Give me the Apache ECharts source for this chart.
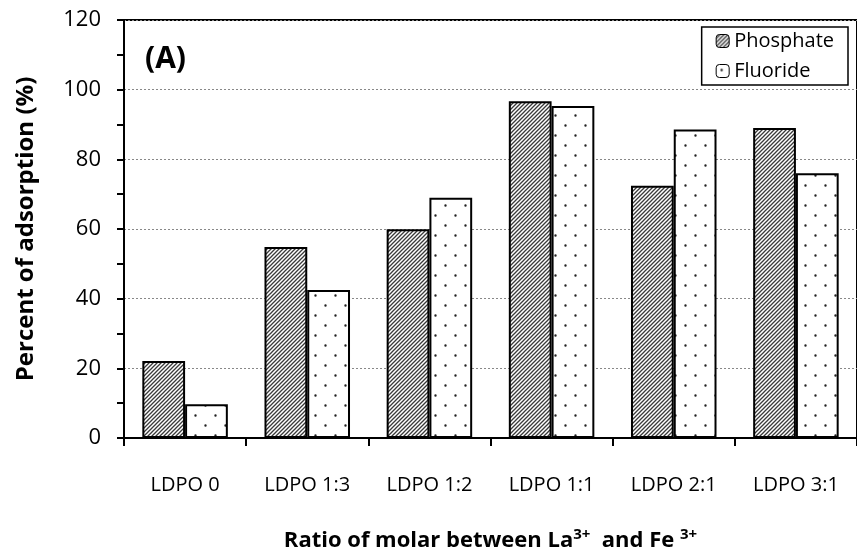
<!DOCTYPE html>
<html>
<head>
<meta charset="utf-8">
<script src="https://cdn.jsdelivr.net/npm/echarts@6/dist/echarts.min.js"></script>
<style>
  html, body { margin: 0; padding: 0; background: #fff; }
  #chart { width: 857px; height: 559px; }
</style>
</head>
<body>
<div id="chart"></div>
<script>
// data
var categories = ["LDPO 0", "LDPO 1:3", "LDPO 1:2", "LDPO 1:1", "LDPO 2:1", "LDPO 3:1"];
var phosphate = [22.1, 54.8, 59.9, 96.7, 72.4, 89.0];
var fluoride = [9.7, 42.5, 69.0, 95.3, 88.6, 76.0];
var yTicks = [0, 20, 40, 60, 80, 100, 120];

var fontFam = "'Open Sans', sans-serif";

// hatch pattern for phosphate
function makeHatch() {
	var c = document.createElement("canvas");
	c.width = 4;
	c.height = 4;
	var ctx = c.getContext("2d");
	ctx.fillStyle = "#fff";
	ctx.fillRect(0, 0, 4, 4);
	ctx.strokeStyle = "#3a3a3a";
	ctx.lineWidth = 1.3;
	ctx.beginPath();
	ctx.moveTo(-1, 5); ctx.lineTo(5, -1);
	ctx.moveTo(-1, 1); ctx.lineTo(1, -1);
	ctx.moveTo(3, 5); ctx.lineTo(5, 3);
	ctx.stroke();
	return c;
}

// sparse dots for fluoride
function makeDots() {
	var c = document.createElement("canvas");
	c.width = 20;
	c.height = 20;
	var ctx = c.getContext("2d");
	ctx.fillStyle = "#fff";
	ctx.fillRect(0, 0, 20, 20);
	ctx.fillStyle = "#222";
	ctx.beginPath();
	ctx.arc(5.5, 5.5, 1.2, 0, Math.PI * 2);
	ctx.arc(15.5, 15.5, 1.2, 0, Math.PI * 2);
	ctx.fill();
	return c;
}

var chart = echarts.init(document.getElementById("chart"), null, { renderer: "canvas" });

var option = {
	animation: false,
	backgroundColor: "#fff",
	title: {
		text: "(A)",
		left: 140,
		top: 39,
		textStyle: { fontFamily: fontFam, fontSize: 30, fontWeight: "bold", color: "#000" }
	},
	legend: {
		orient: "vertical",
		right: 9,
		top: 27,
		padding: [3, 14, 3, 14],
		itemGap: 8,
		itemWidth: 13,
		itemHeight: 13,
		borderColor: "#000",
		borderWidth: 1.5,
		backgroundColor: "#fff",
		itemStyle: { borderColor: "#000", borderWidth: 1 },
		textStyle: { fontFamily: fontFam, fontSize: 20, lineHeight: 22, color: "#000" },
		data: ["Phosphate", "Fluoride"]
	},
	grid: {
		left: 124,
		right: -3,
		top: 20,
		bottom: 121,
		show: true,
		borderColor: "#000",
		borderWidth: 2
	},
	xAxis: {
		type: "category",
		data: categories,
		name: "{b|Ratio of molar between La}{s|3+}{b|  and Fe }{s|3+}",
		nameLocation: "middle",
		nameGap: 89,
		nameTextStyle: {
			rich: {
				b: { fontFamily: fontFam, fontSize: 22, fontWeight: "bold", color: "#000", lineHeight: 28 },
				s: { fontFamily: fontFam, fontSize: 15, fontWeight: "bold", color: "#000", verticalAlign: "top", lineHeight: 28, padding: [0, 0, 12, 0] }
			}
		},
		axisLine: { lineStyle: { color: "#000", width: 2 } },
		axisTick: { show: true, length: 8, lineStyle: { color: "#000", width: 2 } },
		axisLabel: { margin: 37, fontFamily: fontFam, fontSize: 20, color: "#000" }
	},
	yAxis: {
		type: "value",
		min: yTicks[0],
		max: yTicks[yTicks.length - 1],
		interval: 20,
		name: "Percent of adsorption (%)",
		nameLocation: "middle",
		nameGap: 86,
		nameTextStyle: { fontFamily: fontFam, fontSize: 24, fontWeight: "bold", color: "#000" },
		axisLine: { show: true, lineStyle: { color: "#000", width: 2 } },
		axisTick: { show: true, length: 7, lineStyle: { color: "#000", width: 2 } },
		minorTick: { show: true, splitNumber: 2, length: 7, lineStyle: { color: "#000", width: 2 } },
		axisLabel: { margin: 23, fontFamily: fontFam, fontSize: 22, color: "#000" },
		splitLine: { show: true, lineStyle: { color: "#888", type: [2, 2], width: 1 } }
	},
	series: [
		{
			name: "Phosphate",
			type: "bar",
			data: phosphate,
			barGap: "0%",
			barCategoryGap: "30%",
			itemStyle: { color: { image: makeHatch(), repeat: "repeat" }, borderColor: "#000", borderWidth: 2 }
		},
		{
			name: "Fluoride",
			type: "bar",
			data: fluoride,
			barGap: "0%",
			barCategoryGap: "30%",
			itemStyle: { color: { image: makeDots(), repeat: "repeat" }, borderColor: "#000", borderWidth: 2 }
		}
	]
};
chart.setOption(option);
</script>
</body>
</html>
